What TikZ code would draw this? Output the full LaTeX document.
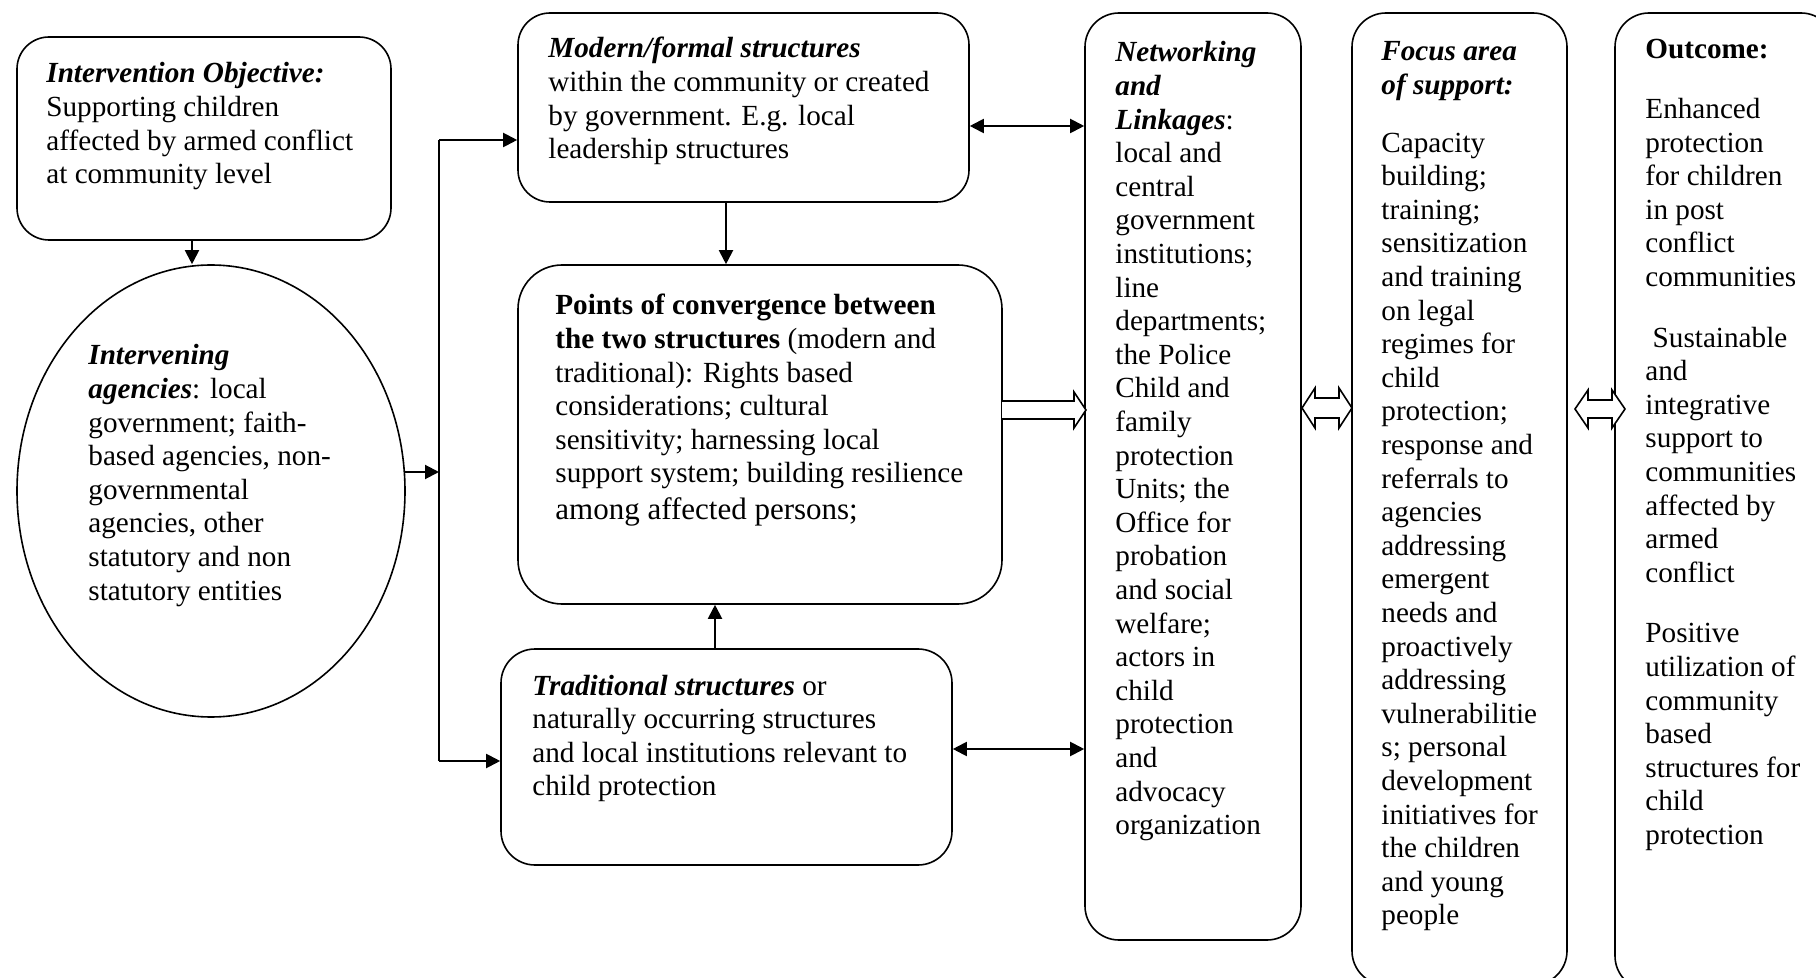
\documentclass[tikz,border=0pt]{standalone}
\usepackage{fontspec}
\setmainfont{Liberation Serif}
\usetikzlibrary{shapes.geometric,arrows.meta,calc}
\newcommand{\fs}{\fontsize{14.6pt}{16.8pt}\selectfont}
\newcommand{\tl}[1]{\hbox{#1}}
\newcommand{\blk}[1]{\vtop{\baselineskip=16.8pt #1}}
\newcommand{\bi}[1]{\textbf{\textit{#1}}}
\tikzset{
  box/.style={draw, line width=0.8pt, inner sep=0pt, rectangle},
  txt/.style={anchor=base west, inner sep=0pt, font=\fs},
  arr/.style={line width=1pt, -{Triangle[length=7pt,width=7pt]}},
  darr/.style={line width=1pt, {Triangle[length=7pt,width=7pt]}-{Triangle[length=7pt,width=7pt]}},
  hollow/.style={draw, line width=0.8pt, fill=white, line join=miter},
  plain/.style={line width=1pt}
}
\begin{document}
\begin{tikzpicture}[x=0.5pt,y=-0.5pt]
\path[use as bounding box] (0,0) rectangle (1816,978);
\clip (0,0) rectangle (1816,978);
\fill[white] (0,0) rectangle (1816,978);

% boxes
\node[box, rounded corners=16pt, minimum width=187pt, minimum height=101.5pt] (obj) at (204,138.5) {};
\node[draw, line width=0.8pt, ellipse, inner sep=0pt, minimum width=194pt, minimum height=226pt] (agen) at (211,491) {};
\node[box, rounded corners=16pt, minimum width=225.5pt, minimum height=94.5pt] (modern) at (743.5,107.5) {};
\node[box, rounded corners=22pt, minimum width=242pt, minimum height=169.5pt] (conv) at (760,434.5) {};
\node[box, rounded corners=17pt, minimum width=225.5pt, minimum height=108pt] (trad) at (726.5,757) {};
\node[box, rounded corners=17pt, minimum width=108pt, minimum height=463.5pt] (net) at (1193,476.5) {};
\node[box, rounded corners=17pt, minimum width=107.5pt, minimum height=486pt] (focus) at (1459.5,499) {};
\node[box, rounded corners=17pt, minimum width=110pt, minimum height=488.5pt] (outc) at (1725,501.5) {};

% texts
\node[txt] (objt) at (46,83) {\blk{%
\tl{\bi{Intervention Objective:}}
\tl{Supporting children}
\tl{affected by armed conflict}
\tl{at community level}}};

\node[txt] (agent) at (88,365) {\blk{%
\tl{\bi{Intervening}}
\tl{\bi{agencies}: local}
\tl{government; faith-}
\tl{based agencies, non-}
\tl{governmental}
\tl{agencies, other}
\tl{statutory and non}
\tl{statutory entities}}};

\node[txt] (modernt) at (548,58) {\blk{%
\tl{\bi{Modern/formal structures}}
\tl{within the community or created}
\tl{by government. E.g. local}
\tl{leadership structures}}};

\node[txt] (convt) at (555,315) {\blk{%
\tl{\textbf{Points of convergence between}}
\tl{\textbf{the two structures} (modern and}
\tl{traditional): Rights based}
\tl{considerations; cultural}
\tl{sensitivity; harnessing local}
\tl{support system; building resilience}
\vskip 1.6pt
\tl{\fontsize{15.5pt}{17pt}\selectfont among affected persons;}}};

\node[txt] (tradt) at (532,695) {\blk{%
\tl{\bi{Traditional structures} or}
\tl{naturally occurring structures}
\tl{and local institutions relevant to}
\tl{child protection}}};

\node[txt] (nett) at (1115,62) {\blk{%
\tl{\bi{Networking}}
\tl{\bi{and}}
\tl{\bi{Linkages}:}
\tl{local and}
\tl{central}
\tl{government}
\tl{institutions;}
\tl{line}
\tl{departments;}
\tl{the Police}
\tl{Child and}
\tl{family}
\tl{protection}
\tl{Units; the}
\tl{Office for}
\tl{probation}
\tl{and social}
\tl{welfare;}
\tl{actors in}
\tl{child}
\tl{protection}
\tl{and}
\tl{advocacy}
\tl{organization}}};

\node[txt] (focust) at (1381,61) {\blk{%
\tl{\bi{Focus area}}
\tl{\bi{of support:}}
\vskip 12pt
\tl{Capacity}
\tl{building;}
\tl{training;}
\tl{sensitization}
\tl{and training}
\tl{on legal}
\tl{regimes for}
\tl{child}
\tl{protection;}
\tl{response and}
\tl{referrals to}
\tl{agencies}
\tl{addressing}
\tl{emergent}
\tl{needs and}
\tl{proactively}
\tl{addressing}
\tl{vulnerabilitie}
\tl{s; personal}
\tl{development}
\tl{initiatives for}
\tl{the children}
\tl{and young}
\tl{people}}};

\node[txt] (outct) at (1645,59) {\blk{%
\tl{\textbf{Outcome:}}
\vskip 13pt
\tl{Enhanced}
\tl{protection}
\tl{for children}
\tl{in post}
\tl{conflict}
\tl{communities}
\vskip 13.5pt
\tl{\ Sustainable}
\tl{and}
\tl{integrative}
\tl{support to}
\tl{communities}
\tl{affected by}
\tl{armed}
\tl{conflict}
\vskip 13.5pt
\tl{Positive}
\tl{utilization of}
\tl{community}
\tl{based}
\tl{structures for}
\tl{child}
\tl{protection}}};

% connectors
\coordinate (ox) at (192,0);
\draw[arr] (obj.south -| ox) -- (agen.north -| ox);

\coordinate (vt) at (439,140);
\coordinate (vb) at (439,761);
\coordinate (ae) at ($(agen.east)+(-1,-19)$);
\draw[arr] (ae) -- (ae -| vt);
\draw[plain] (vt) -- (vb);
\draw[arr] (vt) -- (modern.west |- vt);
\draw[arr] (vb) -- (trad.west |- vb);

\coordinate (mx) at (726,0);
\draw[arr] (modern.south -| mx) -- (conv.north -| mx);
\coordinate (tx) at (715,0);
\draw[arr] (trad.north -| tx) -- (conv.south -| tx);

\coordinate (my) at (0,126);
\draw[darr] (modern.east |- my) -- (net.west |- my);
\coordinate (ty) at (0,749);
\draw[darr] (trad.east |- ty) -- (net.west |- ty);

% hollow arrows
\draw[hollow] (1002,401) -- (1074,401) -- (1074,392) -- (1086,410) -- (1074,428) -- (1074,419) -- (1002,419);
\draw[hollow] (1302,408) -- (1315,388) -- (1315,398) -- (1339,398) -- (1339,388) -- (1352,408) -- (1339,428) -- (1339,418) -- (1315,418) -- (1315,428) -- cycle;
\draw[hollow] (1575,409) -- (1588,390) -- (1588,400) -- (1612,400) -- (1612,390) -- (1625,409) -- (1612,428) -- (1612,418) -- (1588,418) -- (1588,428) -- cycle;
\end{tikzpicture}
\end{document}
